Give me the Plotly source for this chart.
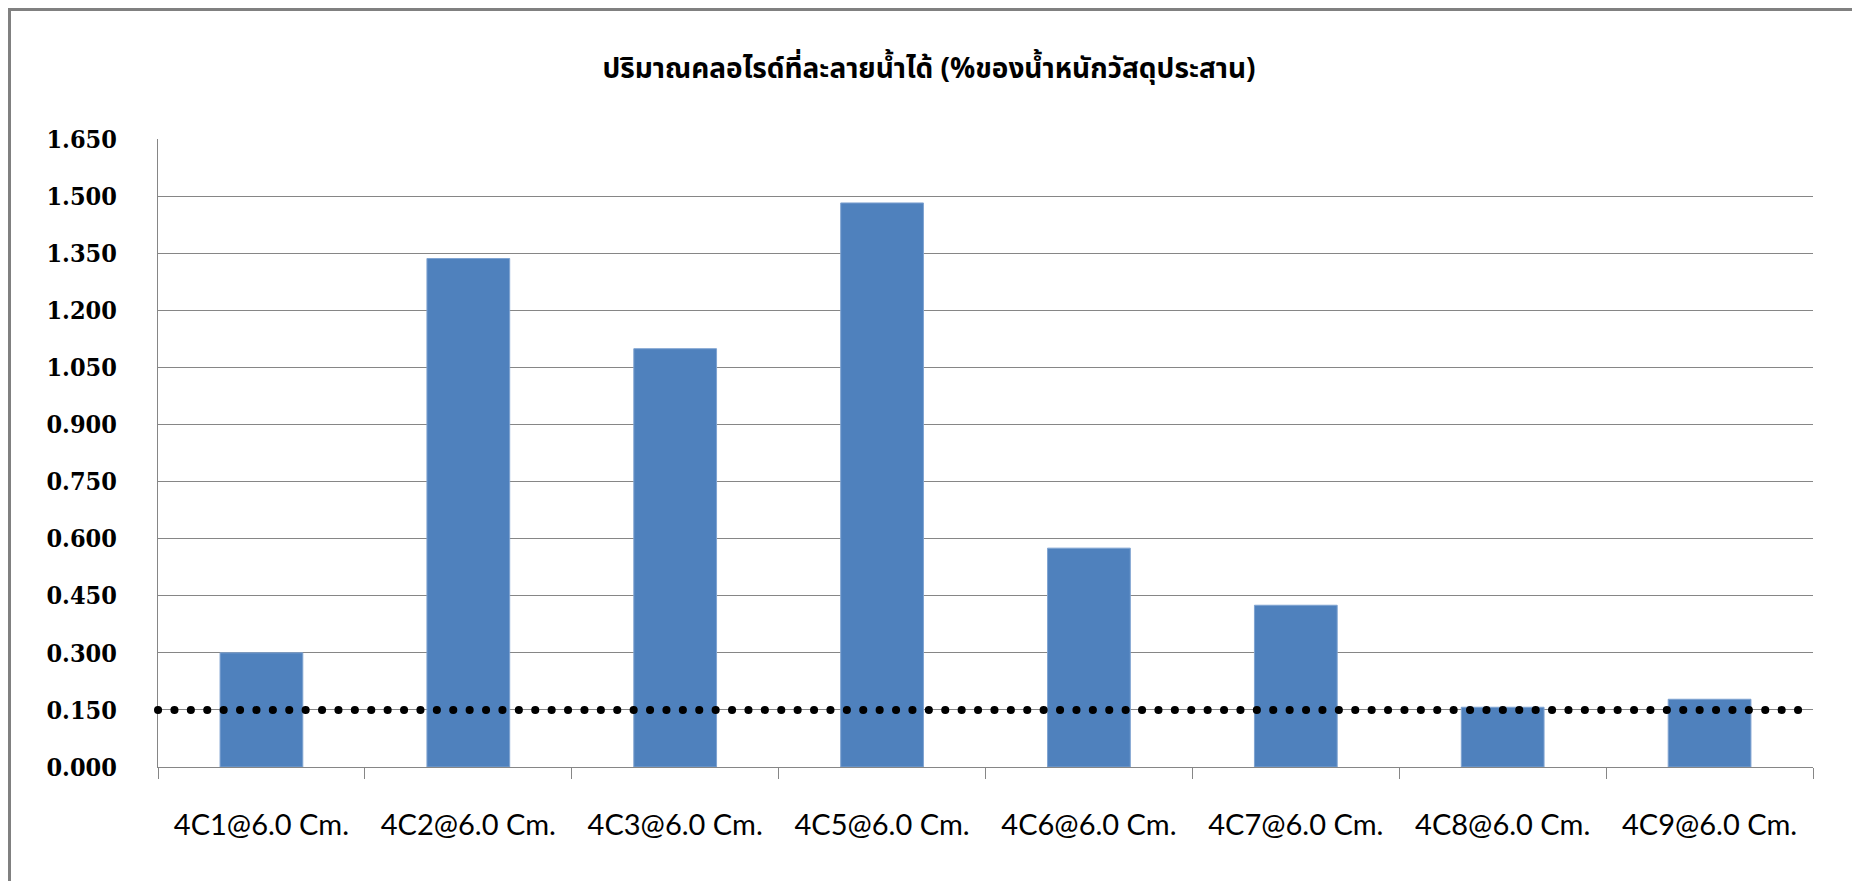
import plotly.graph_objects as go

categories = ["4C1@6.0 Cm.", "4C2@6.0 Cm.", "4C3@6.0 Cm.", "4C5@6.0 Cm.",
              "4C6@6.0 Cm.", "4C7@6.0 Cm.", "4C8@6.0 Cm.", "4C9@6.0 Cm."]
chloride = [0.300, 1.336, 1.099, 1.482, 0.575, 0.425, 0.157, 0.178]
limit_value = 0.150
y_ticks = [0.0, 0.15, 0.30, 0.45, 0.60, 0.75, 0.90, 1.05, 1.20, 1.35, 1.50, 1.65]
title_text = "ปริมาณคลอไรด์ที่ละลายน้ำได้ (%ของน้ำหนักวัสดุประสาน)"

W, H = 1852, 881
L, R, T, B = 158, 39, 139, 114

fig = go.Figure()
fig.add_trace(go.Bar(
    x=categories, y=chloride,
    marker=dict(color="#4F81BD", line=dict(width=1, color="#7fa3d1")),
    showlegend=False, hoverinfo="x+y",
))

gray = "#868686"
fig.update_layout(
    width=W, height=H,
    margin=dict(l=L, r=R, t=T, b=B, pad=0),
    paper_bgcolor="white", plot_bgcolor="white",
    bargap=0.6,
    title=dict(text=title_text, x=929 / W, xanchor="center",
               y=1 - 68 / H, yanchor="middle", yref="container",
               font=dict(family="Noto Sans Thai, Noto Sans, DejaVu Sans", size=28,
                         color="black", weight="bold")),
    xaxis=dict(type="category", tickson="boundaries", ticks="outside", ticklen=11,
               tickcolor=gray, tickwidth=1.3, showline=True, linecolor=gray,
               linewidth=1.3, showgrid=False,
               tickfont=dict(family="Lato, Liberation Sans, sans-serif", size=29,
                             color="black"),
               ticklabelstandoff=32),
    yaxis=dict(range=[0, 1.65], tickvals=y_ticks, tickformat=".3f",
               showgrid=True, gridcolor=gray, gridwidth=1.3,
               showline=True, linecolor=gray, linewidth=1.3, zeroline=False,
               ticks="", ticklabelstandoff=35,
               tickfont=dict(family="DejaVu Serif Condensed, DejaVu Serif, serif",
                             size=25, color="black", weight="bold")),
)

# dotted limit line
fig.add_shape(type="line", xref="paper", yref="y", x0=0, x1=0.995,
              y0=limit_value, y1=limit_value,
              line=dict(color="black", width=8, dash="0.1px,16.3px"))

# outer chart border (top/left visible, rest cut off)
pw, ph = W - L - R, H - T - B
fig.add_shape(type="rect", xref="paper", yref="paper",
              x0=(9.5 - L) / pw, x1=(W + 20 - L) / pw,
              y0=-(H + 20 - (H - B)) / ph, y1=(H - B - 9.5) / ph,
              line=dict(color="#808080", width=3))

post = """
var s=document.createElement('style');
s.textContent='html,body{margin:0;padding:0;overflow:hidden;} .shapelayer path{stroke-linecap:round !important;}';
document.head.appendChild(s);
"""
fig.write_html("out.html", post_script=post, config={"displayModeBar": False})
